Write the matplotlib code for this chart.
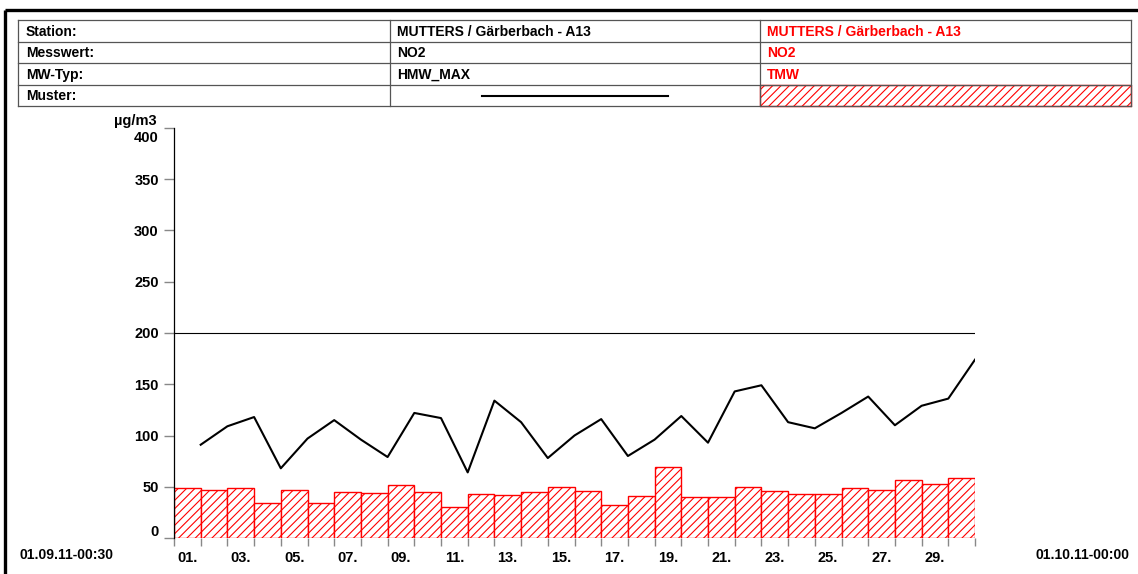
import numpy as np
import matplotlib
matplotlib.use("Agg")
import matplotlib.pyplot as plt
from matplotlib.patches import Rectangle
import matplotlib.transforms as mtransforms

plt.rcParams["font.family"] = ["Liberation Sans", "DejaVu Sans"]
plt.rcParams["font.weight"] = "bold"
plt.rcParams["hatch.linewidth"] = 0.8

# Daily values, September 2011, station MUTTERS / Gärberbach - A13, NO2
days = np.arange(1, 31)
hmw_max = [91, 109, 118, 68, 97, 115, 96, 79, 122, 117, 64, 134, 113, 78, 100,
           116, 80, 96, 119, 93, 143, 149, 113, 107, 122, 138, 110, 129, 136, 174]
tmw = [49, 46.5, 48.5, 34, 46.5, 34, 45, 44, 52, 45, 30, 42.5, 42, 45, 50,
       45.5, 32, 40.5, 69.5, 40, 40, 49.5, 45.5, 42.5, 43, 49, 47, 56.5, 52.5, 58.5]
limit_value = 200
y_ticks = [0, 50, 100, 150, 200, 250, 300, 350, 400]
day_labels = ["%02d." % d for d in days[::2]]
start_label = "01.09.11-00:30"
end_label = "01.10.11-00:00"

header_rows = ["Station:", "Messwert:", "MW-Typ:", "Muster:"]
series1_info = ["MUTTERS / Gärberbach - A13", "NO2", "HMW_MAX"]
series2_info = ["MUTTERS / Gärberbach - A13", "NO2", "TMW"]

W, H = 1138, 574
fig = plt.figure(figsize=(W / 100, H / 100), dpi=100)

# Header / frame overlay in pixel coordinates
hdr = fig.add_axes([0, 0, 1, 1])
hdr.set_xlim(0, W)
hdr.set_ylim(H, 0)
hdr.axis("off")

hdr.plot([5, W + 5], [10, 10], color="black", lw=2.4, solid_capstyle="butt")
hdr.plot([5, 5], [10, H + 5], color="black", lw=2.4, solid_capstyle="butt")

row_edges = [20, 41.5, 63, 84.5, 106]
col_edges = [18, 390, 760, 1131]
for y in row_edges:
    hdr.plot([col_edges[0], col_edges[-1]], [y, y], color="#555555", lw=0.9)
for x in col_edges:
    hdr.plot([x, x], [row_edges[0], row_edges[-1]], color="#555555", lw=0.9)

for i, label in enumerate(header_rows):
    yc = (row_edges[i] + row_edges[i + 1]) / 2 + 1
    hdr.text(26, yc, label, fontsize=10, fontweight="bold", va="center", ha="left")
for i in range(3):
    yc = (row_edges[i] + row_edges[i + 1]) / 2 + 1
    hdr.text(397, yc, series1_info[i], fontsize=10, fontweight="bold",
             va="center", ha="left", color="black")
    hdr.text(767, yc, series2_info[i], fontsize=10, fontweight="bold",
             va="center", ha="left", color="red")

# Pattern samples
yc = (row_edges[3] + row_edges[4]) / 2
hdr.plot([482, 668], [yc + 0.5, yc + 0.5], color="black", lw=1.5)
hdr.add_patch(Rectangle((col_edges[2], row_edges[3]), col_edges[3] - col_edges[2],
                        row_edges[4] - row_edges[3], facecolor="white",
                        edgecolor="red", hatch="////", lw=1.0))

# Main chart
ax = fig.add_axes([174 / W, (H - 538) / H, (975 - 174) / W, (538 - 128) / H])
ax.bar(days - 1, tmw, width=1, align="edge", facecolor="white",
       edgecolor="red", hatch="////", lw=1.0, zorder=2)
ax.plot(days, hmw_max, color="black", lw=1.5, zorder=3)
ax.plot([0, days[-1]], [limit_value, limit_value], color="black", lw=0.8, zorder=3)

ax.set_xlim(0, 30)
ax.set_ylim(0, 400)
for side in ["top", "right", "bottom"]:
    ax.spines[side].set_visible(False)
ax.spines["left"].set_color("black")
ax.spines["left"].set_linewidth(0.9)

ax.set_yticks(y_ticks)
ax.set_yticklabels([str(v) for v in y_ticks], fontsize=10.5, fontweight="bold")
ax.tick_params(axis="y", length=7, width=1, color="#888888", pad=4)
for t, v in zip(ax.yaxis.get_major_ticks(), y_ticks):
    if v in (0, limit_value, 400):
        t.tick1line.set_color("black")
# end labels shifted inward like the original
ylabels = ax.get_yticklabels()
ylabels[0].set_transform(ylabels[0].get_transform() +
                         mtransforms.ScaledTranslation(0, 8 / 100, fig.dpi_scale_trans))
ylabels[-1].set_transform(ylabels[-1].get_transform() +
                          mtransforms.ScaledTranslation(0, -9 / 100, fig.dpi_scale_trans))

ax.set_xticks(np.arange(0, 31))
ax.set_xticklabels([])
ax.tick_params(axis="x", which="major", length=6, width=1, color="#888888")
ax.set_xticks(days[::2] - 0.5, minor=True)
ax.set_xticklabels(day_labels, minor=True, fontsize=10.5, fontweight="bold")
ax.tick_params(axis="x", which="minor", length=0, pad=9)

ax.text(157, 121.5, "µg/m3", transform=hdr.transData, ha="right", va="center",
        fontsize=10.5, fontweight="bold")

hdr.text(20, 555, start_label, fontsize=10, fontweight="bold", ha="left", va="center")
hdr.text(1130, 555, end_label, fontsize=10, fontweight="bold", ha="right", va="center")

fig.savefig("out.png", dpi=100)
